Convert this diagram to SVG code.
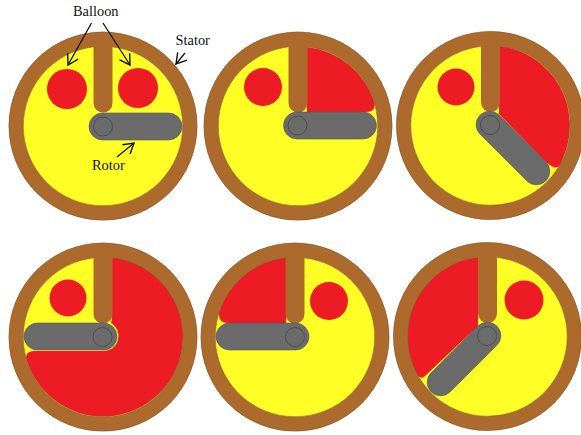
<svg xmlns="http://www.w3.org/2000/svg" width="581" height="435" viewBox="0 0 581 435">
  <style>
    .disc { fill: #ffff26; }
    .ring { fill: none; stroke: #ad6a2d; stroke-width: 14.5; }
    .edge { fill: none; stroke: #7a5a35; stroke-width: 0.5; }
    .vane { fill: #ad6a2d; }
    .red { fill: #ed1c24; }
    .rotor { fill: #6b6b6b; stroke: #555; stroke-width: 0.6; }
    .pivot { fill: #6b6b6b; stroke: #404040; stroke-width: 0.7; }
    .lead { fill: none; stroke: #111; stroke-width: 1.3; marker-end: url(#open); }
    text { font-family: "Liberation Serif", "Times New Roman", serif; font-size: 14.4px; fill: #111; }
  </style>
  <defs>
    <marker id="open" markerUnits="userSpaceOnUse" markerWidth="18" markerHeight="18" refX="13" refY="9" orient="auto">
      <path d="M3,3 L13,9 L3,15" fill="none" stroke="#111" stroke-width="1.4"/>
    </marker>
    <g id="frame">
      <circle class="ring" r="87"/>
      <circle class="edge" r="94"/>
      <circle class="edge" r="79.7"/>
      <path class="vane" d="M-9.5,-84 H9.5 V-23 A9.5,9.5 0 0 1 -9.5,-23 Z"/>
    </g>
    <g id="arm">
      <rect class="rotor" x="-14" y="-13.5" width="93" height="27" rx="13.5"/>
    </g>
    <circle id="pin" class="pivot" r="9.5"/>
  </defs>
  <rect width="581" height="435" fill="#fff"/>

  <g id="panel-1">
    <circle class="disc" cx="103" cy="126" r="80"/>
    <circle class="red" cx="67" cy="89" r="20"/>
    <circle class="red" cx="138" cy="88" r="20"/>
    <use href="#frame" x="103" y="126"/>
    <use href="#arm" x="103" y="126.5"/>
    <use href="#pin" x="103" y="126.5"/>
  </g>
  <g id="panel-2">
    <circle class="disc" cx="298" cy="126" r="80"/>
    <circle class="red" cx="263" cy="87" r="19"/>
    <path class="red" d="M307,47 A80,80 0 0 1 374,101 Q377,112 366,112 H307 Z"/>
    <use href="#frame" x="298" y="126"/>
    <use href="#arm" x="297.500" y="125.500"/>
    <use href="#pin" x="297.500" y="125.500"/>
  </g>
  <g id="panel-3">
    <circle class="disc" cx="490.500" cy="125.500" r="80"/>
    <circle class="red" cx="456" cy="87" r="18.500"/>
    <path class="red" d="M499,46 A80,80 0 0 1 563,158 Q560,170 553,167 L547,163 L499,114 Z"/>
    <use href="#frame" x="490.500" y="125.500"/>
    <use href="#arm" transform="translate(490 125) rotate(45)"/>
    <use href="#pin" x="490" y="125"/>
  </g>
  <g id="panel-4">
    <circle class="disc" cx="103" cy="337" r="80"/>
    <circle class="red" cx="68" cy="298" r="18.500"/>
    <path class="red" d="M112,257 A80,80 0 1 1 26,358 Q26,351 34,351 H103 A15,15 0 0 0 111,323 L112,318 Z"/>
    <use href="#frame" x="103" y="337"/>
    <use href="#arm" transform="translate(103 336.500) rotate(180)"/>
    <use href="#pin" x="102.500" y="337"/>
  </g>
  <g id="panel-5">
    <circle class="disc" cx="295" cy="337" r="80"/>
    <circle class="red" cx="329" cy="301" r="19"/>
    <path class="red" d="M286,257 A80,80 0 0 0 219,312 Q218,323 228,323 H286 Z"/>
    <use href="#frame" x="295" y="337"/>
    <use href="#arm" transform="translate(295 336.500) rotate(180)"/>
    <use href="#pin" x="295" y="337"/>
  </g>
  <g id="panel-6">
    <circle class="disc" cx="487.500" cy="336.500" r="80"/>
    <circle class="red" cx="524" cy="300" r="19.500"/>
    <path class="red" d="M478,257 A80,80 0 0 0 417,375 Q422,380 425,376 L478,326 Z"/>
    <use href="#frame" x="487.500" y="336.500"/>
    <use href="#arm" transform="translate(487 336) rotate(135)"/>
    <use href="#pin" x="487" y="336"/>
  </g>

  <g id="connectors">
    <line class="lead" x1="91.500" y1="23" x2="68" y2="65"/>
    <line class="lead" x1="103" y1="23" x2="130" y2="65"/>
    <line class="lead" x1="185" y1="53" x2="176" y2="64"/>
    <line class="lead" x1="117" y1="157" x2="134" y2="143"/>
  </g>
  <g id="labels">
    <text x="73" y="16">Balloon</text>
    <text x="175.500" y="45">Stator</text>
    <text x="92" y="170">Rotor</text>
  </g>
</svg>
